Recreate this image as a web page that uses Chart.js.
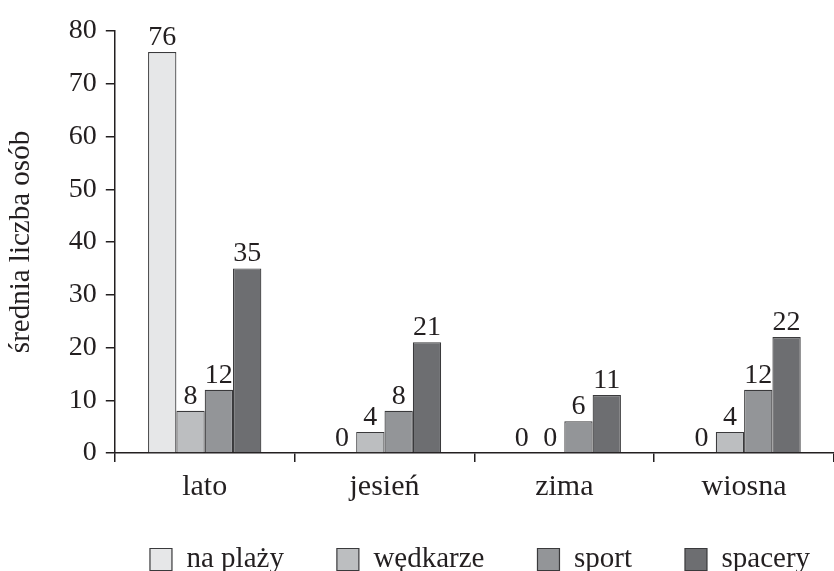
<!DOCTYPE html>
<html>
<head>
<meta charset="utf-8">
<script src="https://cdn.jsdelivr.net/npm/chart.js@4"></script>
<style>
  html, body { margin: 0; padding: 0; background: #fff; }
  #wrap { width: 834px; height: 571px; }
</style>
</head>
<body>
<div id="wrap"><canvas id="chartSeasons"></canvas></div>
<script>
const seasons = ["lato", "jesień", "zima", "wiosna"];
const seriesNames = ["na plaży", "wędkarze", "sport", "spacery"];
const naPlazy = [76, 0, 0, 0];
const wedkarze = [8, 4, 0, 4];
const sport = [12, 8, 6, 12];
const spacery = [35, 21, 11, 22];
const yTickValues = [0, 10, 20, 30, 40, 50, 60, 70, 80];

const fillColors = ["#e6e7e8", "#bcbec0", "#939598", "#6d6e71"];
const ink = "#231f20";
const serif = "'Liberation Serif', 'DejaVu Serif', serif";

// numbers printed above every bar (zeros too)
const valueLabels = {
  id: "valueLabels",
  afterDatasetsDraw(chart) {
    const ctx = chart.ctx;
    ctx.save();
    ctx.font = "28px " + serif;
    ctx.fillStyle = ink;
    ctx.textAlign = "center";
    ctx.textBaseline = "alphabetic";
    chart.data.datasets.forEach((ds, i) => {
      chart.getDatasetMeta(i).data.forEach((bar, j) => {
        ctx.fillText(String(ds.data[j]), bar.x, bar.y - 7);
      });
    });
    ctx.restore();
  }
};

// the legend in the original sits right of centre and a bit higher
const legendNudge = {
  id: "legendNudge",
  afterLayout(chart) {
    const lg = chart.legend;
    lg.left += 61;
    lg.right += 61;
    lg.top -= 20;
    lg.bottom -= 20;
  }
};

const ctx = document.getElementById("chartSeasons").getContext("2d");

const seasonChart = new Chart(ctx, {
  type: "bar",
  data: {
    labels: seasons,
    datasets: [naPlazy, wedkarze, sport, spacery].map((vals, i) => ({
      label: seriesNames[i],
      data: vals,
      backgroundColor: fillColors[i],
      borderColor: "#3a3a3c",
      borderWidth: c => (c.raw === 0 ? 0 : 1.2),
      borderSkipped: "bottom",
      categoryPercentage: 0.63,
      barPercentage: 1.0,
    })),
  },
  options: {
    animation: false,
    responsive: true,
    maintainAspectRatio: false,
    layout: {
      padding: { top: 31, right: 0, bottom: -33, left: 4 },
    },
    scales: {
      x: {
        ticks: {
          font: { family: serif, size: 30 },
          color: ink,
          padding: 7,
        },
        grid: {
          drawOnChartArea: false,
          drawTicks: true,
          tickLength: 9,
          color: ink,
          lineWidth: 1.5,
        },
        border: { color: ink, width: 1.5 },
      },
      y: {
        min: 0,
        max: 80,
        afterBuildTicks: axis => {
          axis.ticks = yTickValues.map(v => ({ value: v }));
        },
        ticks: {
          font: { family: serif, size: 28 },
          color: ink,
          padding: 9,
        },
        grid: {
          drawOnChartArea: false,
          drawTicks: true,
          tickLength: 9,
          color: ink,
          lineWidth: 1.5,
        },
        border: { color: ink, width: 1.5 },
        title: {
          display: true,
          text: "średnia liczba osób",
          font: { family: serif, size: 29 },
          color: ink,
          padding: { top: 0, bottom: 21 },
        },
      },
    },
    plugins: {
      legend: {
        position: "bottom",
        labels: {
          font: { family: serif, size: 29 },
          color: ink,
          boxWidth: 22,
          boxHeight: 22,
          padding: 53,
        },
      },
      tooltip: { enabled: false },
    },
  },
  plugins: [valueLabels, legendNudge],
});
</script>
</body>
</html>
